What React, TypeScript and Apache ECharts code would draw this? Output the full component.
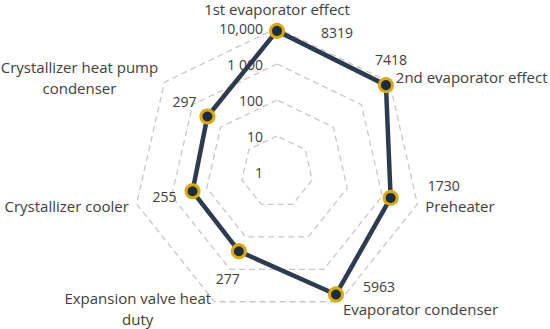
import React, { useEffect, useRef } from 'react';
import * as echarts from 'echarts';

const categories = [
  '1st evaporator effect',
  '2nd evaporator effect',
  'Preheater',
  'Evaporator condenser',
  'Expansion valve heat\nduty',
  'Crystallizer cooler',
  'Crystallizer heat pump\ncondenser',
];
const values = [8319, 7418, 1730, 5963, 277, 255, 297];
const tickLabels = ['1', '10', '100', '1 000', '10,000'];

// label offsets (px) from each marker, keyed by the category index
const labelOffsets: [number, number][] = [
  [60, 2],
  [5, -26],
  [53, -12],
  [43, -8],
  [-11, 27],
  [-28, 5],
  [-23, -15],
];

const FONT = "'Open Sans', 'Noto Sans', sans-serif";
const TEXT = '#404040';

export default function App() {
  const ref = useRef<HTMLDivElement>(null);
  useEffect(() => {
    if (!ref.current) return;
    const chart = echarts.init(ref.current, null, { renderer: 'svg' });
    // ECharts radar runs counter-clockwise; reorder to get clockwise layout
    const order = [0, 6, 5, 4, 3, 2, 1];
    const logs = values.map((v) => Math.log10(v));
    const indicators = order.map((i, k) => {
      const ind: any = { name: categories[i], min: 0, max: tickLabels.length - 1 };
      if (k === 0) ind.axisLabel = { show: true };
      return ind;
    });
    const findIdx = (v: number) => {
      let best = 0;
      let bd = Infinity;
      logs.forEach((l, i) => {
        const d = Math.abs(l - v);
        if (d < bd) {
          bd = d;
          best = i;
        }
      });
      return best;
    };
    chart.setOption({
      animation: false,
      backgroundColor: '#ffffff',
      textStyle: { fontFamily: FONT },
      radar: {
        center: [277, 172],
        radius: 144,
        startAngle: 90,
        shape: 'polygon',
        splitNumber: tickLabels.length - 1,
        indicator: indicators,
        axisName: {
          color: TEXT,
          fontSize: 15,
          fontFamily: FONT,
          formatter: (name: string) => {
            if (name === categories[0]) return `{t|${name}}`;
            return name.indexOf('\n') >= 0
              ? name
                  .split('\n')
                  .map((l) => `{c|${l}}`)
                  .join('\n')
              : name;
          },
          rich: {
            c: { align: 'center', color: TEXT, fontSize: 15, fontFamily: FONT, lineHeight: 21 },
            t: { color: TEXT, fontSize: 15, fontFamily: FONT, padding: [0, 0, 4, 0] },
          },
        },
        nameGap: 8,
        axisLine: { show: false },
        axisTick: { show: false },
        splitArea: { show: false },
        splitLine: {
          lineStyle: { color: '#c8c8c8', width: 1.3, type: [6, 4] },
        },
        axisLabel: {
          show: false,
          color: TEXT,
          fontSize: 14,
          fontFamily: FONT,
          margin: 14,
          formatter: (v: number) => tickLabels[Math.round(v)] ?? '',
        },
      },
      series: [
        {
          type: 'radar',
          symbol: 'circle',
          symbolSize: 13,
          lineStyle: { color: '#2d3a4f', width: 4.5 },
          itemStyle: { color: '#1f2b3e', borderColor: '#d8aa0c', borderWidth: 3 },
          label: {
            show: true,
            position: 'inside',
            color: TEXT,
            fontSize: 14,
            fontFamily: FONT,
            formatter: (p: any) => {
              const v = Array.isArray(p.value) ? p.value[0] : p.value;
              return String(values[findIdx(Number(v))]);
            },
          },
          labelLayout: (p: any) => {
            const idx = values.map(String).indexOf(p.text);
            if (idx < 0) return {};
            return { dx: labelOffsets[idx][0], dy: labelOffsets[idx][1] };
          },
          data: [{ value: order.map((i) => logs[i]) }],
        },
      ],
    });
    return () => chart.dispose();
  }, []);
  return (
    <div
      ref={ref}
      style={{ position: 'absolute', left: 0, top: 0, width: 550, height: 329 }}
    />
  );
}
